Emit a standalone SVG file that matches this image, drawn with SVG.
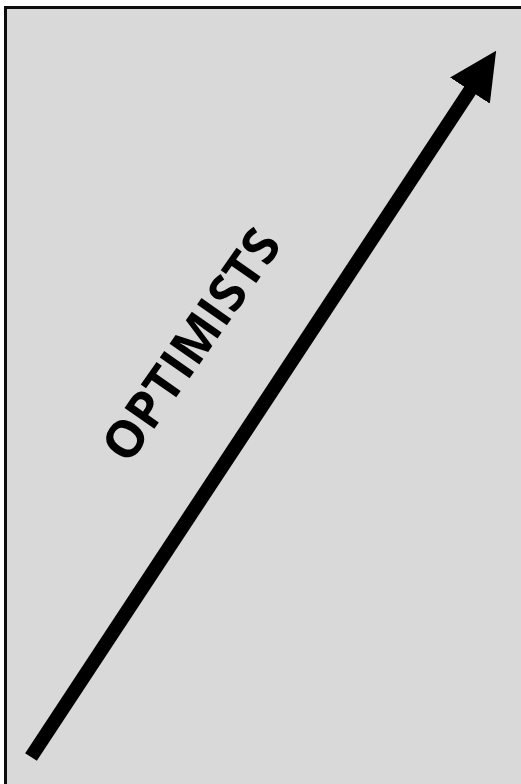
<svg xmlns="http://www.w3.org/2000/svg" width="521" height="784" viewBox="0 0 521 784">
<style>
.bg{fill:#d9d9d9;stroke:#0d0d0d;stroke-width:3}
.lbl{font-family:"Open Sans","Liberation Sans",sans-serif;font-weight:bold;font-size:51px;fill:#000}
</style>
<defs>
<marker id="ah" viewBox="0 0 10 10" refX="0.4" refY="5" markerWidth="3.4" markerHeight="3.4" orient="auto" markerUnits="strokeWidth">
<path d="M0,0 L10,5 L0,10 Z" fill="#000"/>
</marker>
</defs>
<rect class="bg" x="5.5" y="7.5" width="530" height="790"/>
<g id="connectors">
<line x1="31" y1="757" x2="471" y2="89" stroke="#000" stroke-width="14" marker-end="url(#ah)"/>
</g>
<g id="label">
<text class="lbl" x="191" y="363" text-anchor="middle" transform="rotate(-55 191 345)">OPTIMISTS</text>
</g>
</svg>
